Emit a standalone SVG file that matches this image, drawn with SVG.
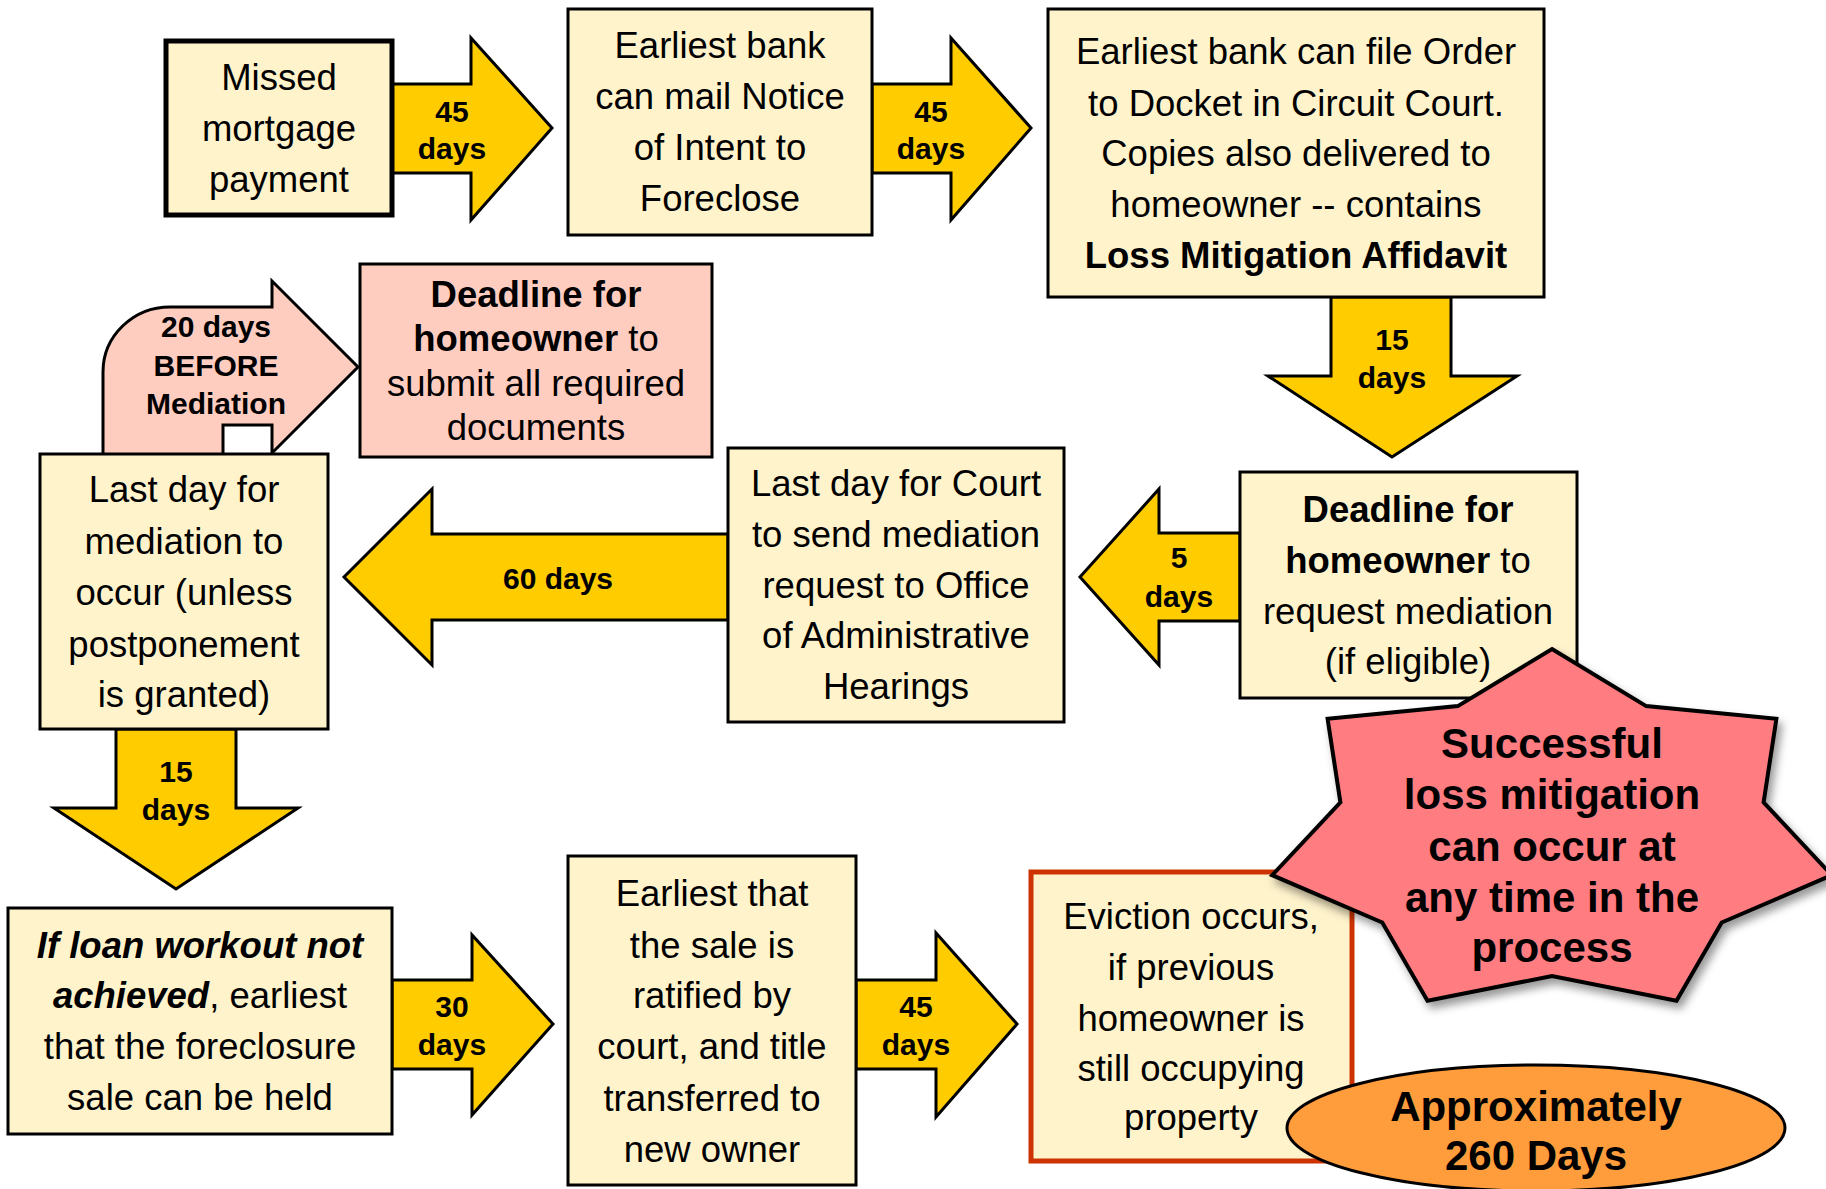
<svg xmlns="http://www.w3.org/2000/svg" width="1826" height="1189" viewBox="0 0 1826 1189">
<defs>
<style>
.box{fill:#FFF3CC;stroke:#000;stroke-width:3}
.arr{fill:#FFCC00;stroke:#000;stroke-width:3;stroke-linejoin:miter}
.t{font-family:"Liberation Sans",Arial,sans-serif;font-size:36.5px;text-anchor:middle;fill:#000}
.a{font-family:"Liberation Sans",Arial,sans-serif;font-size:30px;font-weight:bold;text-anchor:middle;fill:#000}
.s{font-family:"Liberation Sans",Arial,sans-serif;font-size:42px;font-weight:bold;text-anchor:middle;fill:#000}
.b{font-weight:bold}
.bi{font-weight:bold;font-style:italic}
</style>
<filter id="shadow" x="-10%" y="-10%" width="130%" height="130%">
<feDropShadow dx="4" dy="6" stdDeviation="4" flood-color="#000" flood-opacity="0.4"/>
</filter>
</defs>
<rect width="1826" height="1189" fill="#fff"/>

<g id="connectors">
<path class="arr" d="M392,84 H471 V38 L552,128 L471,220 V173 H392 Z"/>
<text class="a" x="452" y="122">45</text><text class="a" x="452" y="159">days</text>
<path class="arr" d="M872,84 H951 V38 L1031,128 L951,220 V173 H872 Z"/>
<text class="a" x="931" y="122">45</text><text class="a" x="931" y="159">days</text>
<path class="arr" d="M1331,297 H1451 V376 H1517 L1392,457 L1268,376 H1331 Z"/>
<text class="a" x="1392" y="350">15</text><text class="a" x="1392" y="388">days</text>
<path class="arr" d="M1240,533 H1159 V489 L1080,577 L1159,665 V621 H1240 Z"/>
<text class="a" x="1179" y="568">5</text><text class="a" x="1179" y="607">days</text>
<path class="arr" d="M728,534 H432 V489 L344,577 L432,665 V620 H728 Z"/>
<text class="a" x="558" y="589">60 days</text>
<path class="arr" d="M116,729 H236 V808 H298 L176,889 L54,808 H116 Z"/>
<text class="a" x="176" y="782">15</text><text class="a" x="176" y="820">days</text>
<path class="arr" d="M392,980 H472 V935 L553,1024 L472,1115 V1069 H392 Z"/>
<text class="a" x="452" y="1017">30</text><text class="a" x="452" y="1055">days</text>
<path class="arr" d="M856,980 H936 V933 L1017,1024 L936,1117 V1069 H856 Z"/>
<text class="a" x="916" y="1017">45</text><text class="a" x="916" y="1055">days</text>
<path d="M272,453 V425 H223 V457 H103 V372 A67,65 0 0 1 170,307 H272 V281 L358,367 Z" fill="#FFCDC0" stroke="#000" stroke-width="3" stroke-linejoin="miter"/>
<text class="a" x="216" y="337">20 days</text>
<text class="a" x="216" y="376">BEFORE</text>
<text class="a" x="216" y="414">Mediation</text>
</g>

<g id="missed">
<rect x="166" y="41" width="226" height="174" fill="#FFF3CC" stroke="#000" stroke-width="5"/>
<text class="t" x="279" y="90">Missed</text>
<text class="t" x="279" y="141">mortgage</text>
<text class="t" x="279" y="192">payment</text>
</g>

<g id="notice">
<rect class="box" x="568" y="9" width="304" height="226"/>
<text class="t" x="720" y="58">Earliest bank</text>
<text class="t" x="720" y="109">can mail Notice</text>
<text class="t" x="720" y="160">of Intent to</text>
<text class="t" x="720" y="211">Foreclose</text>
</g>

<g id="docket">
<rect class="box" x="1048" y="9" width="496" height="288"/>
<text class="t" x="1296" y="64">Earliest bank can file Order</text>
<text class="t" x="1296" y="116">to Docket in Circuit Court.</text>
<text class="t" x="1296" y="166">Copies also delivered to</text>
<text class="t" x="1296" y="217">homeowner -- contains</text>
<text class="t b" x="1296" y="268">Loss Mitigation Affidavit</text>
</g>

<g id="submit">
<rect x="360" y="264" width="352" height="193" fill="#FFCDC0" stroke="#000" stroke-width="3"/>
<text class="t b" x="536" y="307">Deadline for</text>
<text class="t" x="536" y="351"><tspan class="b">homeowner</tspan> to</text>
<text class="t" x="536" y="396">submit all required</text>
<text class="t" x="536" y="440">documents</text>
</g>

<g id="request">
<rect class="box" x="1240" y="472" width="337" height="226"/>
<text class="t b" x="1408" y="522">Deadline for</text>
<text class="t" x="1408" y="573"><tspan class="b">homeowner</tspan> to</text>
<text class="t" x="1408" y="624">request mediation</text>
<text class="t" x="1408" y="674">(if eligible)</text>
</g>

<g id="court">
<rect class="box" x="728" y="448" width="336" height="274"/>
<text class="t" x="896" y="496">Last day for Court</text>
<text class="t" x="896" y="547">to send mediation</text>
<text class="t" x="896" y="598">request to Office</text>
<text class="t" x="896" y="648">of Administrative</text>
<text class="t" x="896" y="699">Hearings</text>
</g>

<g id="mediation">
<rect class="box" x="40" y="454" width="288" height="275"/>
<text class="t" x="184" y="502">Last day for</text>
<text class="t" x="184" y="554">mediation to</text>
<text class="t" x="184" y="605">occur (unless</text>
<text class="t" x="184" y="657">postponement</text>
<text class="t" x="184" y="707">is granted)</text>
</g>

<g id="sale">
<rect class="box" x="8" y="908" width="384" height="226"/>
<text class="t" x="200" y="958"><tspan class="bi">If loan workout not</tspan></text>
<text class="t" x="200" y="1008"><tspan class="bi">achieved</tspan>, earliest</text>
<text class="t" x="200" y="1059">that the foreclosure</text>
<text class="t" x="200" y="1110">sale can be held</text>
</g>

<g id="ratified">
<rect class="box" x="568" y="856" width="288" height="329"/>
<text class="t" x="712" y="906">Earliest that</text>
<text class="t" x="712" y="958">the sale is</text>
<text class="t" x="712" y="1008">ratified by</text>
<text class="t" x="712" y="1059">court, and title</text>
<text class="t" x="712" y="1111">transferred to</text>
<text class="t" x="712" y="1162">new owner</text>
</g>

<g id="eviction">
<rect x="1031" y="872" width="321" height="289" fill="#FFF3CC" stroke="#CC3300" stroke-width="5"/>
<text class="t" x="1191" y="929">Eviction occurs,</text>
<text class="t" x="1191" y="980">if previous</text>
<text class="t" x="1191" y="1031">homeowner is</text>
<text class="t" x="1191" y="1081">still occupying</text>
<text class="t" x="1191" y="1130">property</text>
</g>

<g id="star">
<path d="M1552,649 L1646.2,706.1 L1776.4,718.7 L1763.6,802.4 L1831.8,875.2 L1721.7,922.5 L1676.5,1000.7 L1552,976 L1427.5,1000.7 L1382.3,922.5 L1272.2,875.2 L1340.4,802.4 L1327.6,718.7 L1457.8,706.1 Z" fill="#FF7C80" stroke="#000" stroke-width="4" stroke-linejoin="miter" filter="url(#shadow)"/>
<text class="s" x="1552" y="758">Successful</text>
<text class="s" x="1552" y="809">loss mitigation</text>
<text class="s" x="1552" y="861">can occur at</text>
<text class="s" x="1552" y="912">any time in the</text>
<text class="s" x="1552" y="962">process</text>
</g>

<g id="total">
<ellipse cx="1536" cy="1128" rx="249" ry="63" fill="#FF9C3C" stroke="#000" stroke-width="3"/>
<text class="s" x="1536" y="1121">Approximately</text>
<text class="s" x="1536" y="1170">260 Days</text>
</g>
</svg>
